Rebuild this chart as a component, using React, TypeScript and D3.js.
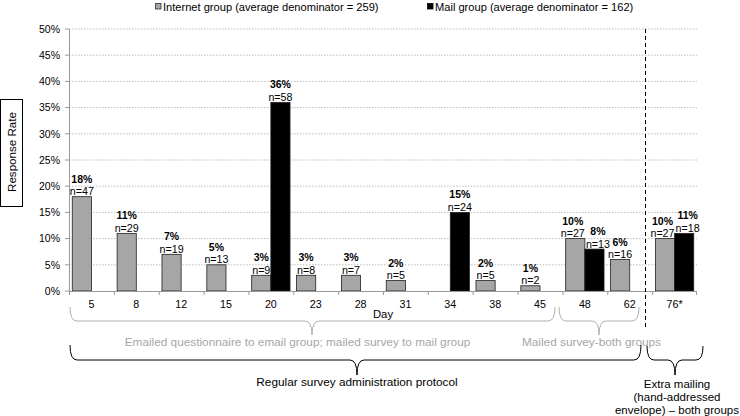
import React from "react";
import * as d3 from "d3";

const days = ["5", "8", "12", "15", "20", "23", "28", "31", "34", "38", "45", "48", "62", "76*"];
const internetPct: (number | null)[] = [18, 11, 7, 5, 3, 3, 3, 2, null, 2, 1, 10, 6, 10];
const internetN: (number | null)[] = [47, 29, 19, 13, 9, 8, 7, 5, null, 5, 2, 27, 16, 27];
const mailPct: (number | null)[] = [null, null, null, null, 36, null, null, null, 15, null, null, 8, null, 11];
const mailN: (number | null)[] = [null, null, null, null, 58, null, null, null, 24, null, null, 13, null, 18];
const yTicks = [0, 5, 10, 15, 20, 25, 30, 35, 40, 45, 50];
const legendLabels = ["Internet group (average denominator = 259)", "Mail group (average denominator = 162)"];
const groups = ["internet", "mail"];
const braceLabels = {
  emailed: "Emailed questionnaire to email group; mailed survey to mail group",
  mailed: "Mailed survey-both groups",
  regular: "Regular survey administration protocol",
  extra: ["Extra mailing", "(hand-addressed", "envelope) \u2013 both groups"],
};

const FONT = "'Liberation Sans', Arial, Helvetica, sans-serif";
const GREY = "#a6a6a6";

function brace(x1: number, x2: number, xm: number, yTop: number, yMid: number, yTip: number, r = 7) {
  return `M${x1},${yTop} Q${x1},${yMid} ${x1 + r},${yMid} L${xm - r},${yMid} Q${xm},${yMid} ${xm},${yTip} Q${xm},${yMid} ${xm + r},${yMid} L${x2 - r},${yMid} Q${x2},${yMid} ${x2},${yTop}`;
}

export default function App() {
  const x = d3.scaleBand<string>().domain(days).range([69, 697]).padding(0);
  const bw = x.bandwidth();
  const xi = d3.scaleBand<string>().domain(groups).range([0, bw]).paddingInner(0).paddingOuter(0.17);
  const y = d3.scaleLinear().domain([0, 50]).range([291, 29]);

  const series = [
    { key: "internet", pct: internetPct, n: internetN, fill: GREY },
    { key: "mail", pct: mailPct, n: mailN, fill: "#000" },
  ];

  const bars: React.ReactNode[] = [];
  const labels: React.ReactNode[] = [];
  days.forEach((d, i) => {
    const both = internetPct[i] != null && mailPct[i] != null && Math.abs((internetPct[i] as number) - (mailPct[i] as number)) < 10;
    series.forEach((s) => {
      const v = s.pct[i];
      if (v == null) return;
      const bx = (x(d) as number) + (xi(s.key) as number);
      const top = y(v);
      bars.push(
        <rect key={`b-${s.key}-${i}`} x={bx} y={top} width={xi.bandwidth()} height={y(0) - top}
          fill={s.fill} stroke="#222" strokeWidth={0.8} />
      );
      const shift = both ? (s.key === "internet" ? -2.5 : 3.5) : 0;
      const cx = bx + xi.bandwidth() / 2 + shift;
      labels.push(
        <text key={`p-${s.key}-${i}`} x={cx} y={top - 14} textAnchor="middle" fontSize={10.5} fontWeight="bold">{`${v}%`}</text>,
        <text key={`n-${s.key}-${i}`} x={cx} y={top - 1.5} textAnchor="middle" fontSize={10.7}>{`n=${s.n[i]}`}</text>
      );
    });
  });

  return (
    <svg width={740} height={416} style={{ position: "absolute", left: 0, top: 0, fontFamily: FONT }}>
      <rect width={740} height={416} fill="#fff" />
      {/* legend */}
      <rect x={155.5} y={3.5} width={5.5} height={5.5} fill={GREY} stroke="#333" strokeWidth={0.8} />
      <text x={163} y={10.5} fontSize={11.1}>{legendLabels[0]}</text>
      <rect x={427.5} y={3.5} width={5.5} height={5.5} fill="#000" stroke="#000" strokeWidth={0.8} />
      <text x={435} y={10.5} fontSize={11.1}>{legendLabels[1]}</text>

      {/* y axis title */}
      <rect x={0.5} y={99.5} width={22} height={107} fill="#fff" stroke="#000" strokeWidth={1} />
      <text transform="translate(15.8,152) rotate(-90)" textAnchor="middle" fontSize={11.6}>Response Rate</text>

      {/* grid + y ticks */}
      {yTicks.map((t) => (
        <g key={`g${t}`}>
          {t > 0 && <line x1={69} x2={697} y1={y(t)} y2={y(t)} stroke="#bdbdbd" strokeWidth={1} strokeDasharray="1.5,1.5" />}
          <line x1={65} x2={69} y1={y(t)} y2={y(t)} stroke="#999" />
          <text x={60} y={y(t) + 3.8} textAnchor="end" fontSize={10.5}>{`${t}%`}</text>
        </g>
      ))}
      <line x1={69.5} x2={69.5} y1={y(50)} y2={y(0)} stroke="#999" />

      {bars}

      {/* x axis */}
      <line x1={69} x2={697} y1={291.5} y2={291.5} stroke="#999" />
      {days.map((d, i) => (
        <line key={`t${i}`} x1={(x(d) as number) + 0.5} x2={(x(d) as number) + 0.5} y1={291} y2={295} stroke="#999" />
      ))}
      <line x1={696.5} x2={696.5} y1={291} y2={295} stroke="#999" />
      {days.map((d) => (
        <text key={`xl${d}`} x={(x(d) as number) + bw / 2} y={308} textAnchor="middle" fontSize={10.7}>{d}</text>
      ))}
      <text x={383} y={317.5} textAnchor="middle" fontSize={11.3}>Day</text>

      {labels}

      {/* dashed separator */}
      <line x1={645.5} x2={645.5} y1={29} y2={328} stroke="#000" strokeWidth={1} strokeDasharray="4,3" />

      {/* braces */}
      <path d={brace(70, 555, 312, 307, 321, 335)} fill="none" stroke="#b0b0b0" strokeWidth={1} />
      <path d={brace(559, 639, 599, 307, 321, 335)} fill="none" stroke="#b0b0b0" strokeWidth={1} />
      <text x={297.5} y={345.8} textAnchor="middle" fontSize={11.8} fill={GREY}>{braceLabels.emailed}</text>
      <text x={591.5} y={345.8} textAnchor="middle" fontSize={11.8} fill={GREY}>{braceLabels.mailed}</text>

      <path d={brace(70, 641, 357, 345, 360, 375)} fill="none" stroke="#000" strokeWidth={1} />
      <path d={brace(647, 703, 675, 346, 360, 375)} fill="none" stroke="#000" strokeWidth={1} />
      <text x={357} y={386} textAnchor="middle" fontSize={11.8}>{braceLabels.regular}</text>
      {braceLabels.extra.map((l, i) => (
        <text key={`ex${i}`} x={677} y={387.5 + i * 13} textAnchor="middle" fontSize={11.5}>{l}</text>
      ))}
    </svg>
  );
}
